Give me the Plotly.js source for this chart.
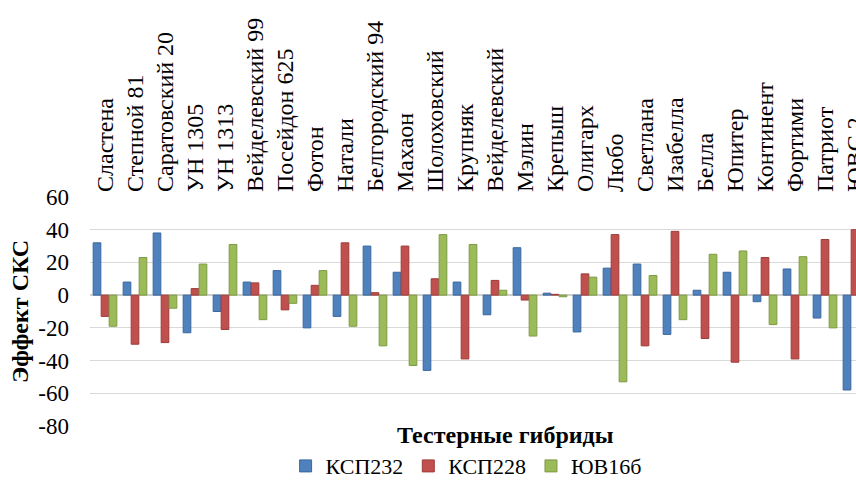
<!DOCTYPE html>
<html>
<head>
<meta charset="utf-8">
<script src="https://cdn.plot.ly/plotly-3.0.1.min.js"></script>
<style>html,body{margin:0;padding:0;background:#fff;}#chart{width:856px;height:484px;}</style>
</head>
<body>
<div id="chart"></div>
<script>
const categories = ["Сластена","Степной 81","Саратовский 20","УН 1305","УН 1313","Вейделевский 99","Посейдон 625","Фотон","Натали","Белгородский 94","Махаон","Шолоховский","Крупняк","Вейделевский","Мэлин","Крепыш","Олигарх","Любо","Светлана","Изабелла","Белла","Юпитер","Континент","Фортими","Патриот","ЮВС 2"];
const seriesNames = ["КСП232","КСП228","ЮВ16б"];
const ksp232 = [32,8,38,-23,-10,8,15,-20,-13,30,14,-46,8,-12,29,1.2,-22.5,16.5,19,-24,3,14,-4,16,-14,-58];
const ksp228 = [-13,-30,-29,4,-21,7.5,-9,6,32,1.5,30,10,-39,9,-3,0.5,13,37,-31,39,-26.5,-41,23,-39,34,40];
const yuv16b = [-19,23,-8,19,31,-15,-5,15,-19,-31,-43,37,31,3,-25,-1,11,-53,12,-15,25,27,-18,23.5,-20,null];
const yTicks = [-80,-60,-40,-20,0,20,40,60];

const colors = ["#4F81BD","#C0504D","#9BBB59"];
const lines = ["#3A679E","#9E3B38","#7E9A44"];
const values = [ksp232, ksp228, yuv16b];
const serif = "Liberation Serif";

const data = values.map((v,i)=>({
  type:"bar", name:seriesNames[i], x:categories, y:v,
  marker:{color:colors[i], line:{color:lines[i], width:1}},
  hoverinfo:"x+y+name"
}));

const layout = {
  width:856, height:484,
  margin:{l:90, r:0, t:197, b:58, pad:0, autoexpand:false},
  paper_bgcolor:"#ffffff", plot_bgcolor:"#ffffff",
  barmode:"group", bargap:0.2, bargroupgap:0.04,
  font:{family:serif, size:22, color:"#000"},
  xaxis:{
    type:"category", side:"top", range:[-0.5, 25.033],
    tickangle:-90, tickfont:{family:serif, size:24, color:"#000"},
    showgrid:false, showline:false, zeroline:false, ticks:"", ticklabelstandoff:4,
    automargin:false, fixedrange:true
  },
  yaxis:{
    range:[-80,60], tickvals:yTicks, ticktext:yTicks.map(String),
    tickfont:{family:serif, size:23, color:"#000"},
    showgrid:true, gridcolor:"#d9d9d9", gridwidth:1,
    zeroline:true, zerolinecolor:"#cfcfcf", zerolinewidth:2,
    showline:false, ticks:"", ticklabelstandoff:20,
    title:{text:"Эффект СКС", font:{family:serif, size:24, color:"#000", weight:"bold"}, standoff:2},
    automargin:false, fixedrange:true
  },
  showlegend:true,
  legend:{
    orientation:"h", xref:"paper", x:0.491, xanchor:"center",
    yref:"container", y:0.037, yanchor:"middle",
    font:{family:serif, size:22, color:"#000"}, itemwidth:30, traceorder:"normal",
    bgcolor:"rgba(0,0,0,0)"
  },
  annotations:[{
    text:"Тестерные гибриды", xref:"paper", yref:"paper", x:0.542, y:-0.04,
    xanchor:"center", yanchor:"middle", showarrow:false,
    font:{family:serif, size:24, color:"#000", weight:"bold"}
  }]
};

Plotly.newPlot("chart", data, layout, {displayModeBar:false, staticPlot:true});
</script>
</body>
</html>
